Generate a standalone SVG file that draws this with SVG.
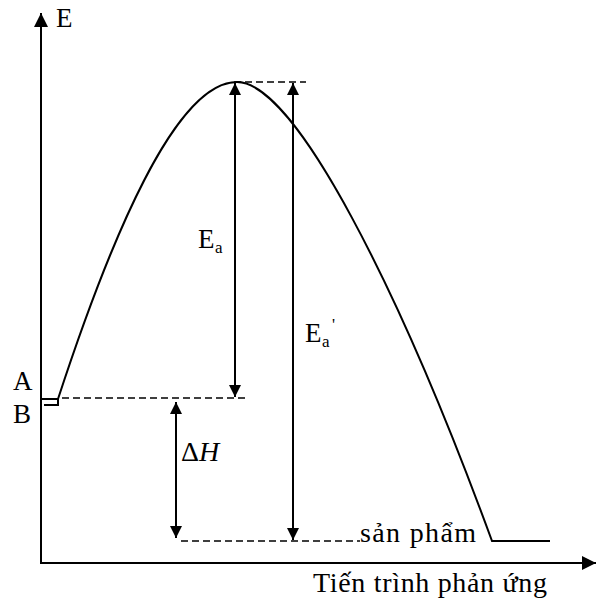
<svg xmlns="http://www.w3.org/2000/svg" width="597" height="602" viewBox="0 0 597 602">
<defs>
<marker id="ah" viewBox="0 0 12 12" refX="12" refY="6" markerWidth="12" markerHeight="12" markerUnits="userSpaceOnUse" orient="auto-start-reverse">
<path d="M0,0 L12,6 L0,12 Z" fill="#000"/>
</marker>
<marker id="big" viewBox="0 0 14 14" refX="14" refY="7" markerWidth="14" markerHeight="14" markerUnits="userSpaceOnUse" orient="auto">
<path d="M0,0 L14,7 L0,14 Z" fill="#000"/>
</marker>
</defs>
<style>
.ln{stroke:#000;stroke-width:2;fill:none}
.ds{stroke:#000;stroke-width:1.3;fill:none;stroke-dasharray:7,4}
.t{font-family:"Liberation Serif","Times New Roman",serif;font-size:27px;fill:#000}
.b{font-family:"Liberation Serif","Times New Roman",serif;font-size:28px;fill:#000}
.s{font-family:"Liberation Serif","Times New Roman",serif;font-size:17px;fill:#000}
</style>
<rect width="597" height="602" fill="#fff"/>
<g id="axes">
<line class="ln" x1="41" y1="564" x2="41" y2="13" marker-end="url(#big)"/>
<line class="ln" x1="41" y1="563" x2="596" y2="563" marker-end="url(#big)"/>
</g>
<g id="curve">
<path class="ln" d="M40,399 L58,399 L58,405 L44,405 M58,399 C110,240 175,82 237,82 C295,82 400,290 492,541 L550,541" stroke-width="1.8"/>
</g>
<g id="connectors">
<line class="ds" x1="62" y1="398" x2="246" y2="398"/>
<line class="ds" x1="234" y1="82" x2="306" y2="82"/>
<line class="ds" x1="181" y1="541" x2="360" y2="541"/>
<line class="ln" x1="235" y1="83" x2="235" y2="397" marker-start="url(#ah)" marker-end="url(#ah)"/>
<line class="ln" x1="293" y1="83" x2="293" y2="540" marker-start="url(#ah)" marker-end="url(#ah)"/>
<line class="ln" x1="176" y1="402" x2="176" y2="538" marker-start="url(#ah)" marker-end="url(#ah)"/>
</g>
<g id="labels">
<text class="t" x="56" y="27">E</text>
<text class="t" x="13" y="390">A</text>
<text class="t" x="13" y="423">B</text>
<text class="t" x="198" y="248">E</text><text class="s" x="215" y="253">a</text>
<text class="t" x="305" y="342">E</text><text class="s" x="322" y="347">a</text><text class="s" x="332" y="330">'</text>
<text class="b" x="181" y="461">Δ<tspan font-style="italic">H</tspan></text>
<text class="b" x="360" y="542" textLength="116" lengthAdjust="spacing">sản phẩm</text>
<text class="b" x="313" y="592" textLength="234" lengthAdjust="spacing">Tiến trình phản ứng</text>
</g>
</svg>
